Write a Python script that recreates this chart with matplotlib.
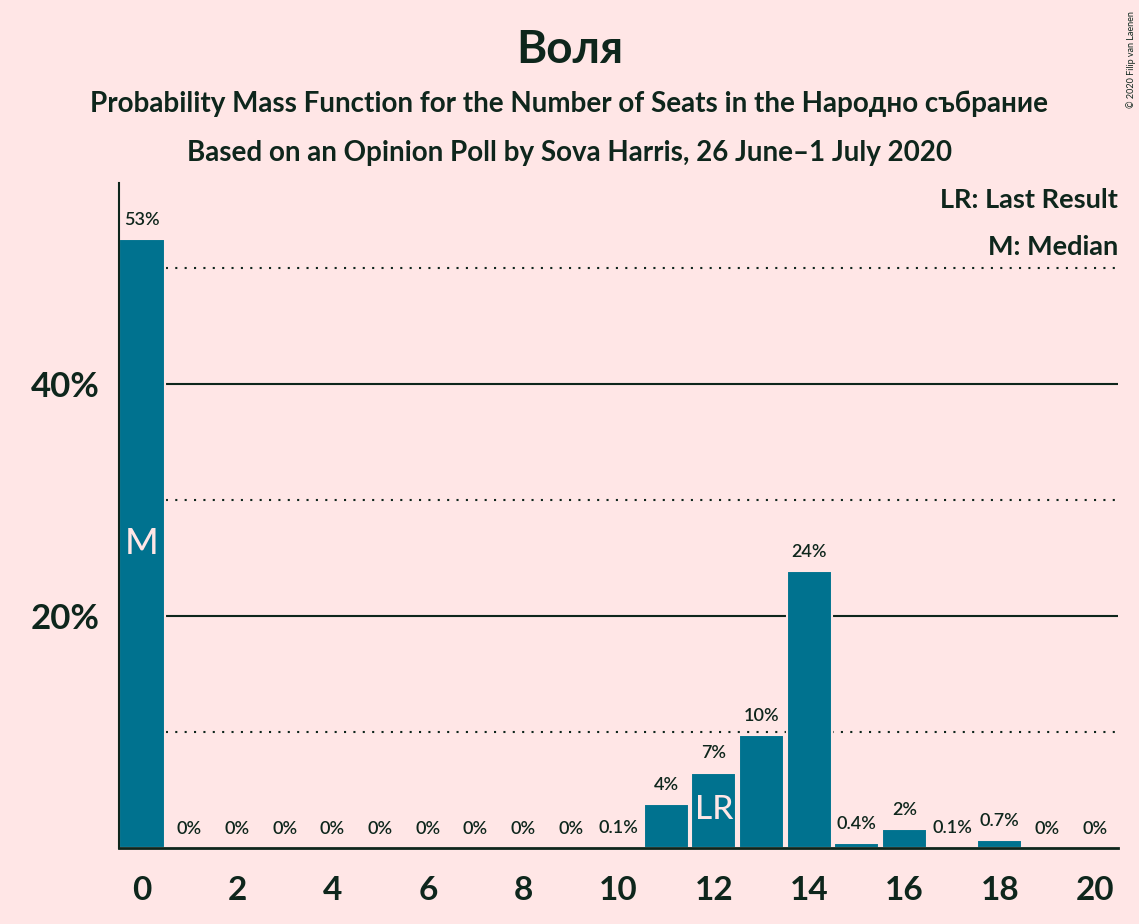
import matplotlib
matplotlib.use("Agg")
import matplotlib.pyplot as plt
import numpy as np

seats = list(range(21))
probs = [52.5, 0, 0, 0, 0, 0, 0, 0, 0, 0, 0.1, 3.8, 6.5, 9.7, 23.9, 0.4, 1.6, 0.1, 0.7, 0, 0]
labels = ["53%", "0%", "0%", "0%", "0%", "0%", "0%", "0%", "0%", "0%", "0.1%", "4%", "7%", "10%", "24%",
          "0.4%", "2%", "0.1%", "0.7%", "0%", "0%"]
xticks = list(range(0, 21, 2))
yticks_major = [20, 40]
yticks_minor = [10, 30, 50]
median_seat = 0
last_result_seat = 12

BG = "#FFE6E6"
BAR = "#00728F"
INK = "#0E261C"

plt.rcParams['font.family'] = ['Lato', 'DejaVu Sans']

fig = plt.figure(figsize=(11.39, 9.24), dpi=100, facecolor=BG)
ax = fig.add_axes([119/1139, 76/924, (1118-119)/1139, (848-183)/924])
ax.set_facecolor(BG)

ax.set_xlim(-0.48, 20.48)
ax.set_ylim(0, 57.3)

for y in yticks_major:
    ax.axhline(y, color=INK, lw=1.5, ls='-', zorder=1)
for y in yticks_minor:
    ax.axhline(y, color=INK, lw=1.5, ls=(0, (1, 3.5)), zorder=1)

ax.bar(seats, probs, width=0.95, color=BAR, edgecolor=BG, linewidth=1.5, zorder=2)

for s, p, lab in zip(seats, probs, labels):
    ax.annotate(lab, (s, p), xytext=(0, 8), textcoords='offset points', ha='center', va='bottom',
                fontsize=13, color=INK, fontweight='semibold', zorder=3)

ax.text(median_seat, probs[median_seat] / 2, "M", ha='center', va='center', fontsize=26,
        color=BG, fontweight='medium', zorder=3)
ax.text(last_result_seat, probs[last_result_seat] / 2, "LR", ha='center', va='center', fontsize=24,
        color=BG, fontweight='medium', zorder=3)

ax.set_xticks(xticks)
ax.set_xticklabels([str(x) for x in xticks], fontsize=24, fontweight='bold', color=INK)
ax.set_yticks(yticks_major)
ax.set_yticklabels([f"{y}%" for y in yticks_major], fontsize=25, fontweight='bold', color=INK)
ax.tick_params(axis='both', length=0)
ax.tick_params(axis='y', pad=14)
ax.tick_params(axis='x', pad=20)

for side in ['top', 'right']:
    ax.spines[side].set_visible(False)
ax.spines['left'].set_color(INK)
ax.spines['bottom'].set_color(INK)
ax.spines['left'].set_linewidth(1.5)
ax.spines['bottom'].set_linewidth(2)

fig.text(0.5, 1 - 50/924, "Воля", ha='center', va='center', fontsize=33, fontweight='bold', color=INK)
fig.text(0.5, 1 - 104/924, "Probability Mass Function for the Number of Seats in the Народно събрание",
         ha='center', va='center', fontsize=20, fontweight='bold', color=INK)
fig.text(0.5, 1 - 153/924, "Based on an Opinion Poll by Sova Harris, 26 June–1 July 2020",
         ha='center', va='center', fontsize=20, fontweight='bold', color=INK)

fig.text(1118/1139, 1 - 200/924, "LR: Last Result", ha='right', va='center', fontsize=19.5,
         fontweight='bold', color=INK)
fig.text(1118/1139, 1 - 247/924, "M: Median", ha='right', va='center', fontsize=19.5,
         fontweight='bold', color=INK)

fig.text(1131/1139, 1 - 60/924, "© 2020 Filip van Laenen", ha='center', va='center', fontsize=6.5,
         rotation=90, color=INK)

fig.savefig("out.png", dpi=100, facecolor=BG)
